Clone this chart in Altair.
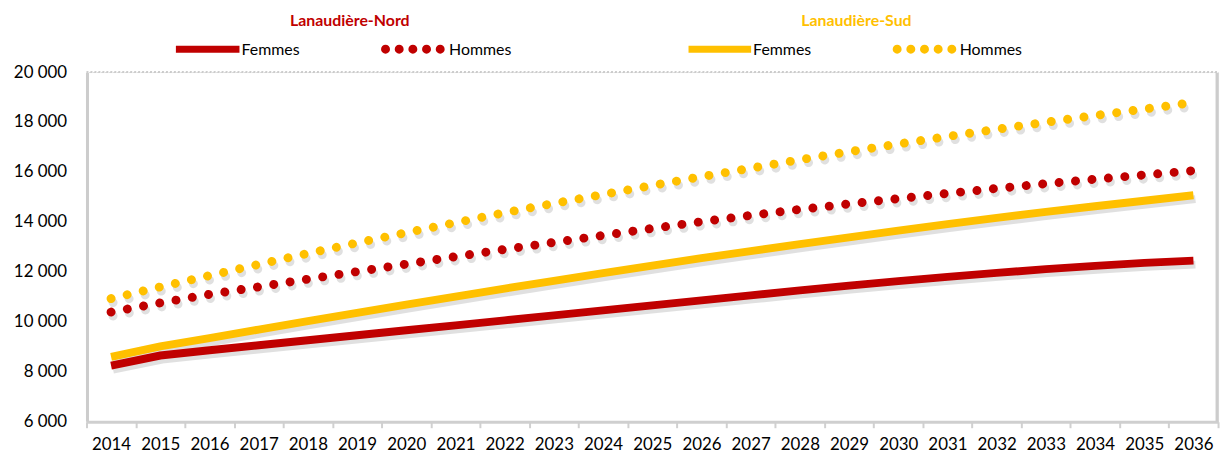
import altair as alt
import pandas as pd

years = [str(y) for y in range(2014, 2037)]
nord_femmes = [8250, 8650, 8860, 9060, 9260, 9460, 9660, 9860, 10060, 10260, 10460, 10660, 10860, 11060, 11260, 11450, 11630, 11800, 11960, 12110, 12240, 12360, 12450]
nord_hommes = [10390, 10760, 11100, 11400, 11710, 12010, 12310, 12610, 12900, 13180, 13460, 13740, 14010, 14260, 14500, 14720, 14930, 15140, 15340, 15530, 15710, 15880, 16050]
sud_femmes = [8600, 9020, 9350, 9690, 10030, 10360, 10690, 11010, 11330, 11640, 11950, 12250, 12550, 12830, 13110, 13380, 13650, 13910, 14160, 14400, 14630, 14850, 15070]
sud_hommes = [10930, 11400, 11850, 12300, 12740, 13160, 13570, 13970, 14370, 14740, 15100, 15460, 15810, 16150, 16490, 16810, 17120, 17420, 17710, 17990, 18260, 18520, 18780]

regions = ["Lanaudière-Nord", "Lanaudière-Sud"]
sexes = ["Femmes", "Hommes"]
colors = {"Lanaudière-Nord": "#c00000", "Lanaudière-Sud": "#ffc000"}
y_ticks = [6000, 8000, 10000, 12000, 14000, 16000, 18000, 20000]

rows = []
for region, sexe, vals in [
    ("Lanaudière-Nord", "Femmes", nord_femmes),
    ("Lanaudière-Nord", "Hommes", nord_hommes),
    ("Lanaudière-Sud", "Femmes", sud_femmes),
    ("Lanaudière-Sud", "Hommes", sud_hommes),
]:
    for a, v in zip(years, vals):
        rows.append({"annee": a, "valeur": v, "region": region, "sexe": sexe, "serie": region + " " + sexe})
df = pd.DataFrame(rows)

FONT = "Lato"
W, H = 1139, 352

x_enc = alt.X(
    "annee:O",
    bandPosition=0.5,
    scale=alt.Scale(type="band", paddingInner=0, paddingOuter=0),
    axis=alt.Axis(
        title=None, labelAngle=0, labelFont=FONT, labelFontSize=17, labelColor="#000000",
        tickBand="extent", tickColor="#d0d0d0", tickWidth=2, tickSize=6, labelPadding=9,
        domainColor="#cfcfcf", domainWidth=3, grid=False,
    ),
)
y_enc = alt.Y(
    "valeur:Q",
    scale=alt.Scale(domain=[6000, 20000], nice=False, zero=False),
    axis=alt.Axis(
        title=None, values=y_ticks, labelExpr="replace(format(datum.value, ','), ',', ' ')",
        labelFont=FONT, labelFontSize=17, labelColor="#000000", ticks=False, domain=False,
        labelPadding=20, grid=True, gridColor="#ffffff", gridDash=[2, 2], gridWidth=1.5,
    ),
)
color_enc = alt.Color(
    "region:N",
    scale=alt.Scale(domain=regions, range=[colors[r] for r in regions]),
    legend=None,
)

fem = df[df.sexe == "Femmes"]
hom = df[df.sexe == "Hommes"]

shadow_f = alt.Chart(fem).mark_line(strokeWidth=8, strokeCap="butt", color="#000000", opacity=0.12, xOffset=2, yOffset=4).encode(
    x=x_enc, y=y_enc, detail="serie:N")
shadow_h = alt.Chart(hom).mark_line(strokeWidth=9, strokeCap="round", strokeDash=[0.01, 16.6], color="#000000", opacity=0.12, xOffset=2, yOffset=4).encode(
    x=x_enc, y=y_enc, detail="serie:N")
line_f = alt.Chart(fem).mark_line(strokeWidth=8, strokeCap="butt").encode(
    x=x_enc, y=y_enc, color=color_enc, detail="serie:N")
line_h = alt.Chart(hom).mark_line(strokeWidth=9, strokeCap="round", strokeDash=[0.01, 16.6]).encode(
    x=x_enc, y=y_enc, color=color_enc, detail="serie:N")

one = pd.DataFrame({"k": [0]})
top_grid = alt.Chart(one).mark_rule(color="#bdbdbd", strokeDash=[2, 2], strokeWidth=1.5).encode(
    y=alt.datum(20000), x=alt.value(0), x2=alt.value(W))
left_edge = alt.Chart(one).mark_rule(color="#cccccc", strokeWidth=3).encode(
    x=alt.value(1), y=alt.value(1), y2=alt.value(H))
right_edge = alt.Chart(one).mark_rule(color="#cccccc", strokeWidth=3).encode(
    x=alt.value(W - 1), y=alt.value(1), y2=alt.value(H))

# titles and custom legend (layout positions in pixels, relative to plot origin)
title_x = [265, 775]
legend_layers = []
for region, tx in zip(regions, title_x):
    legend_layers.append(
        alt.Chart(pd.DataFrame({"t": [region]})).mark_text(
            font=FONT, fontSize=16, fontWeight="bold", align="center", baseline="middle", color=colors[region]
        ).encode(text="t:N", x=alt.value(tx), y=alt.value(-51))
    )

leg_spec = [
    # region, sexe, x1, x2, text x
    ("Lanaudière-Nord", "Femmes", 90, 154, 156),
    ("Lanaudière-Nord", "Hommes", 301, 357, 365),
    ("Lanaudière-Sud", "Femmes", 606, 669, 671),
    ("Lanaudière-Sud", "Hommes", 816, 872, 879),
]
for region, sexe, x1, x2, tx in leg_spec:
    if sexe == "Femmes":
        mk = alt.Chart(one).mark_rule(color=colors[region], strokeWidth=7, strokeCap="butt")
    else:
        mk = alt.Chart(one).mark_rule(color=colors[region], strokeWidth=9, strokeCap="round", strokeDash=[0.01, 13.75])
    legend_layers.append(mk.encode(x=alt.value(x1), x2=alt.value(x2), y=alt.value(-23)))
    legend_layers.append(
        alt.Chart(pd.DataFrame({"t": [sexe]})).mark_text(
            font=FONT, fontSize=16, align="left", baseline="middle", color="#000000"
        ).encode(text="t:N", x=alt.value(tx), y=alt.value(-22))
    )

chart = alt.layer(
    left_edge, right_edge, top_grid, shadow_f, shadow_h, line_f, line_h, *legend_layers
).properties(
    width=W, height=H,
    autosize=alt.AutoSizeParams(type="none"),
    padding={"left": 79, "top": 63, "right": 6, "bottom": 32},
).configure_view(fill="#f0f0f0", stroke="transparent").configure(background="#ffffff")

chart.save("out.html", embed_options={"renderer": "svg", "actions": False})
